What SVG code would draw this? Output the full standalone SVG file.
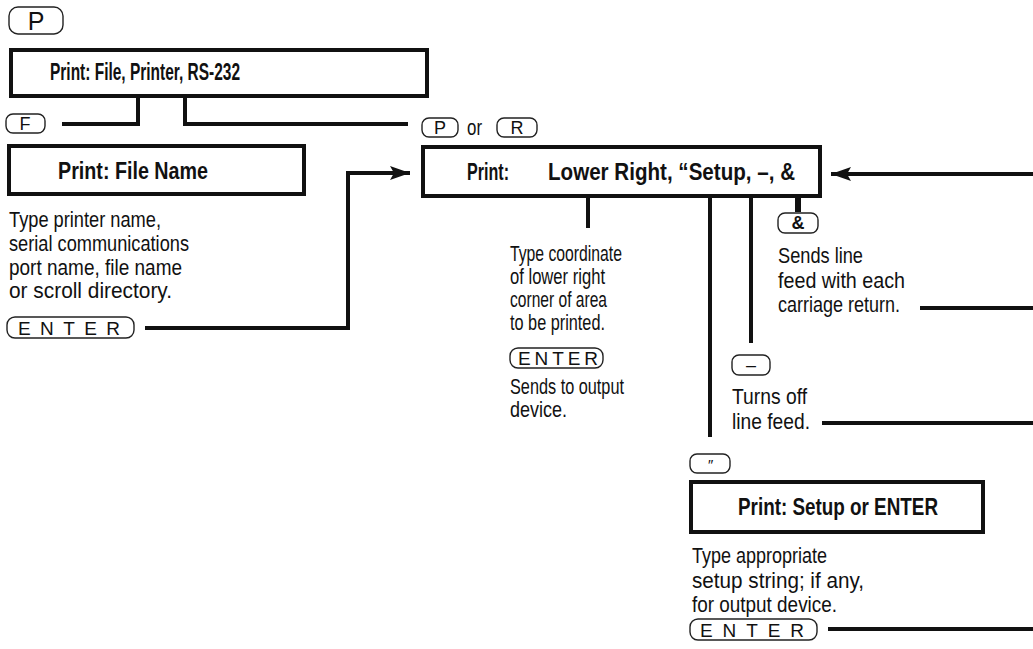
<svg xmlns="http://www.w3.org/2000/svg" width="1033" height="649" viewBox="0 0 1033 649">
<defs>
<style>
.box{fill:#fff;stroke:#111;stroke-width:4}
.key{fill:#fff;stroke:#222;stroke-width:1.4}
.kt{font-family:"Liberation Sans",Arial,sans-serif;font-size:18px;fill:#111;text-anchor:middle}
.en{font-family:"Liberation Sans",Arial,sans-serif;font-size:19px;fill:#111}
.title{font-family:"Liberation Sans Narrow","Liberation Sans",Arial,sans-serif;font-weight:bold;font-size:23px;fill:#111}
.body{font-family:"Liberation Sans Narrow","Liberation Sans",Arial,sans-serif;font-size:22px;fill:#111}
.ln{fill:none;stroke:#111;stroke-width:4}
</style>
<marker id="ah" markerUnits="userSpaceOnUse" markerWidth="22" markerHeight="16" refX="20" refY="7" orient="auto">
<path d="M0,0 L20,7 L0,14 L4,7 z" fill="#111"/>
</marker>
</defs>
<rect width="1033" height="649" fill="#fff"/>

<g id="connectors">
<path class="ln" d="M138,97 V124 H62"/>
<path class="ln" d="M185,97 V124 H408"/>
<path class="ln" d="M145,328 H348 V173 H410" marker-end="url(#ah)"/>
<path class="ln" d="M1033,174 H831" marker-end="url(#ah)"/>
<path class="ln" d="M588,197 V228"/>
<path class="ln" d="M710,197 V437"/>
<path class="ln" d="M751,197 V343"/>
<path class="ln" d="M798,197 V212" style="stroke-width:6"/>
<path class="ln" d="M920,308 H1033"/>
<path class="ln" d="M822,423 H1033"/>
<path class="ln" d="M828,629 H1033"/>
</g>

<g id="key-p-top">
<rect class="key" x="9" y="7" width="54" height="27" rx="9"/>
<text class="kt" x="36" y="30" style="font-size:25px">P</text>
</g>

<g id="node-print-file-printer">
<rect class="box" x="11" y="50" width="416" height="46"/>
<text class="title" x="50" y="80" textLength="190" lengthAdjust="spacingAndGlyphs">Print: File, Printer, RS-232</text>
</g>

<g id="key-f">
<rect class="key" x="6" y="114" width="39" height="19" rx="7"/>
<text class="kt" x="25" y="130">F</text>
</g>

<g id="key-p-or-r">
<rect class="key" x="422" y="118" width="36" height="19" rx="7"/>
<text class="kt" x="440" y="134">P</text>
<text class="body" x="467" y="135" textLength="15" lengthAdjust="spacingAndGlyphs">or</text>
<rect class="key" x="497" y="118" width="40" height="19" rx="7"/>
<text class="kt" x="517" y="134">R</text>
</g>

<g id="node-print-file-name">
<rect class="box" x="9" y="146" width="295" height="48"/>
<text class="title" x="58" y="179" textLength="150" lengthAdjust="spacingAndGlyphs">Print: File Name</text>
</g>

<g id="text-file-name">
<text class="body" x="9" y="227" textLength="152" lengthAdjust="spacingAndGlyphs">Type printer name,</text>
<text class="body" x="9" y="251" textLength="180" lengthAdjust="spacingAndGlyphs">serial communications</text>
<text class="body" x="9" y="275" textLength="173" lengthAdjust="spacingAndGlyphs">port name, file name</text>
<text class="body" x="9" y="298" textLength="163" lengthAdjust="spacingAndGlyphs">or scroll directory.</text>
<rect class="key" x="7" y="317" width="127" height="21" rx="8"/>
<text class="en" x="18" y="335" textLength="102" lengthAdjust="spacing">ENTER</text>
</g>

<g id="node-print-lower-right">
<rect class="box" x="423" y="147" width="397" height="49"/>
<text class="title" x="467" y="180" textLength="42" lengthAdjust="spacingAndGlyphs">Print:</text>
<text class="title" x="548" y="180" textLength="247" lengthAdjust="spacingAndGlyphs">Lower Right, “Setup, –, &amp;</text>
</g>

<g id="text-lower-right">
<text class="body" x="510" y="261" textLength="112" lengthAdjust="spacingAndGlyphs">Type coordinate</text>
<text class="body" x="510" y="284" textLength="95" lengthAdjust="spacingAndGlyphs">of lower right</text>
<text class="body" x="510" y="307" textLength="97" lengthAdjust="spacingAndGlyphs">corner of area</text>
<text class="body" x="510" y="330" textLength="95" lengthAdjust="spacingAndGlyphs">to be printed.</text>
<rect class="key" x="510" y="348" width="93" height="20" rx="8"/>
<text class="en" x="518" y="365" textLength="80" lengthAdjust="spacing">ENTER</text>
<text class="body" x="510" y="394" textLength="114" lengthAdjust="spacingAndGlyphs">Sends to output</text>
<text class="body" x="510" y="417" textLength="57" lengthAdjust="spacingAndGlyphs">device.</text>
</g>

<g id="key-amp">
<rect class="key" x="778" y="213" width="40" height="20" rx="7"/>
<text class="kt" x="798" y="229" style="font-weight:bold">&amp;</text>
<text class="body" x="778" y="263" textLength="85" lengthAdjust="spacingAndGlyphs">Sends line</text>
<text class="body" x="778" y="288" textLength="127" lengthAdjust="spacingAndGlyphs">feed with each</text>
<text class="body" x="778" y="312" textLength="122" lengthAdjust="spacingAndGlyphs">carriage return.</text>
</g>

<g id="key-dash">
<rect class="key" x="732" y="355" width="38" height="20" rx="7"/>
<text class="kt" x="751" y="371">–</text>
<text class="body" x="732" y="404" textLength="75" lengthAdjust="spacingAndGlyphs">Turns off</text>
<text class="body" x="732" y="429" textLength="78" lengthAdjust="spacingAndGlyphs">line feed.</text>
</g>

<g id="key-quote">
<rect class="key" x="690" y="454" width="40" height="19" rx="7"/>
<text class="kt" x="710" y="470" style="font-style:italic;font-size:15px">″</text>
</g>

<g id="node-print-setup">
<rect class="box" x="691" y="482" width="292" height="50"/>
<text class="title" x="738" y="515" textLength="200" lengthAdjust="spacingAndGlyphs">Print: Setup or ENTER</text>
</g>

<g id="text-setup">
<text class="body" x="692" y="563" textLength="135" lengthAdjust="spacingAndGlyphs">Type appropriate</text>
<text class="body" x="692" y="588" textLength="172" lengthAdjust="spacingAndGlyphs">setup string; if any,</text>
<text class="body" x="692" y="612" textLength="145" lengthAdjust="spacingAndGlyphs">for output device.</text>
<rect class="key" x="690" y="619" width="127" height="21" rx="8"/>
<text class="en" x="700" y="637" textLength="104" lengthAdjust="spacing">ENTER</text>
</g>
</svg>
